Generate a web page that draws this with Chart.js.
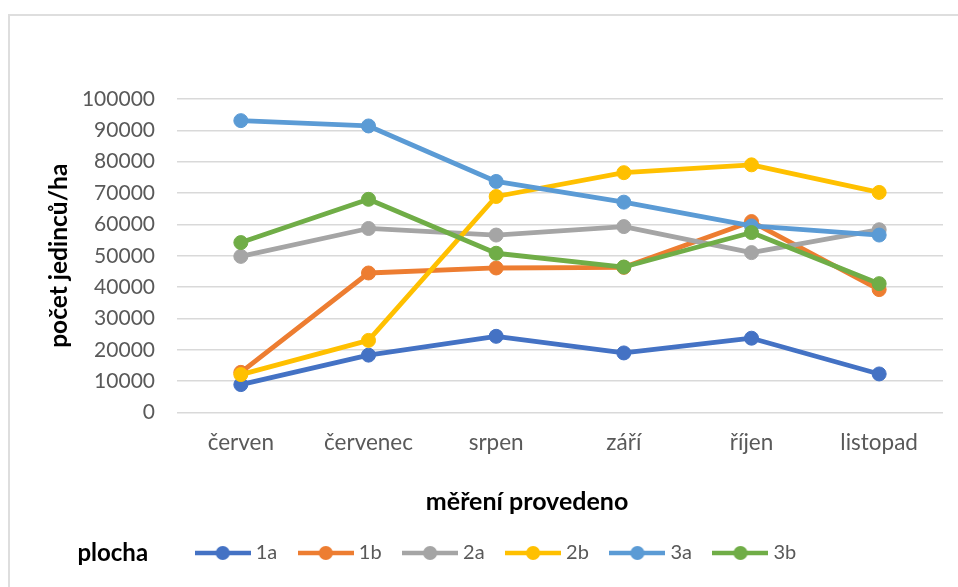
<!DOCTYPE html>
<html lang="cs">
<head>
<meta charset="utf-8">
<title>Počet jedinců na hektar</title>
<script src="https://cdn.jsdelivr.net/npm/chart.js@4.4.1/dist/chart.umd.min.js"></script>
<style>
  html, body { margin: 0; padding: 0; background: #fff; }
  #wrap { position: relative; width: 958px; height: 587px; overflow: hidden; }
  #frame { position: absolute; left: 8px; top: 14px; width: 1000px; height: 1000px;
           border: 2px solid #dedede; box-sizing: border-box; }
  canvas { position: absolute; left: 0; top: 0; }
</style>
</head>
<body>
<div id="wrap">
  <div id="frame"></div>
  <canvas id="chart" width="958" height="587"></canvas>
</div>
<script>
// Months of measurement
const months = ['červen', 'červenec', 'srpen', 'září', 'říjen', 'listopad'];

// Individuals per hectare for each plot
const plot1a = [8900, 18300, 24300, 19000, 23700, 12300];
const plot1b = [12800, 44500, 46100, 46300, 60900, 39200];
const plot2a = [49800, 58700, 56600, 59300, 51000, 58300];
const plot2b = [12100, 23000, 68900, 76500, 79000, 70200];
const plot3a = [93100, 91400, 73700, 67100, 59500, 56600];
const plot3b = [54200, 68000, 50800, 46400, 57400, 41100];

const plotNames = ['1a', '1b', '2a', '2b', '3a', '3b'];
const plotColors = ['#4472C4', '#ED7D31', '#A5A5A5', '#FFC000', '#5B9BD5', '#70AD47'];

// Value axis range
const yMin = 0;
const yMax = 100000;
const yStep = 10000;

const yTitle = 'počet jedinců/ha';
const xTitle = 'měření provedeno';
const legendTitle = 'plocha';

const FONT = 'Lato, "Open Sans", sans-serif';

// Legend symbol: short line with a dot in the middle
function legendIcon(color) {
  const c = document.createElement('canvas');
  c.width = 56; c.height = 16;
  const g = c.getContext('2d');
  g.strokeStyle = color;
  g.lineWidth = 4.5;
  g.beginPath(); g.moveTo(0, 8); g.lineTo(56, 8); g.stroke();
  g.fillStyle = color;
  g.beginPath(); g.arc(28, 8, 7, 0, Math.PI * 2); g.fill();
  return c;
}

const series = [plot1a, plot1b, plot2a, plot2b, plot3a, plot3b];
const datasets = series.map((values, i) => ({
  label: plotNames[i],
  data: values,
  borderColor: plotColors[i],
  backgroundColor: plotColors[i],
  pointBackgroundColor: plotColors[i],
  pointBorderColor: plotColors[i],
  borderWidth: 4.8,
  pointRadius: 7,
  pointBorderWidth: 1,
  borderJoinStyle: 'round',
  borderCapStyle: 'round',
  tension: 0,
  order: series.length - i
}));

// Extra captions: x-axis title and the legend heading
const captions = {
  id: 'captions',
  afterDraw(chart) {
    const { ctx, chartArea } = chart;
    ctx.save();
    ctx.fillStyle = '#000';
    ctx.textAlign = 'center';
    ctx.textBaseline = 'middle';
    ctx.font = 'bold 25px ' + FONT;
    const w = chartArea.right - chartArea.left;
    ctx.fillText(xTitle, chartArea.left + w * 0.457, chartArea.bottom + 89);
    ctx.font = 'bold 24px ' + FONT;
    const hb = chart.legend.legendHitBoxes[0];
    if (hb) ctx.fillText(legendTitle, hb.left - 87, hb.top + hb.height / 2);
    ctx.restore();
  }
};

new Chart(document.getElementById('chart'), {
  type: 'line',
  data: { labels: months, datasets },
  plugins: [captions],
  options: {
    responsive: false,
    animation: false,
    layout: { padding: { left: 53, right: 15, top: 99, bottom: 14 } },
    plugins: {
      tooltip: { enabled: false },
      legend: {
        position: 'bottom',
        labels: {
          usePointStyle: true,
          pointStyleWidth: 46,
          padding: 25.5,
          color: '#595959',
          font: { family: FONT, size: 20 },
          generateLabels(chart) {
            return chart.data.datasets.map((ds, i) => ({
              text: ds.label,
              pointStyle: legendIcon(ds.borderColor),
              fillStyle: ds.borderColor,
              strokeStyle: ds.borderColor,
              lineWidth: 0,
              hidden: false,
              datasetIndex: i,
              fontColor: '#595959'
            }));
          }
        }
      }
    },
    scales: {
      x: {
        offset: true,
        grid: { display: false, drawTicks: false },
        border: { display: false },
        ticks: {
          color: '#595959',
          font: { family: FONT, size: 22.5 },
          padding: 17,
          maxRotation: 0,
          autoSkip: false
        },
        afterFit(scale) { scale.height = 105; }
      },
      y: {
        min: yMin,
        max: yMax,
        border: { display: false },
        grid: { color: '#d9d9d9', lineWidth: 1.5, drawTicks: false },
        ticks: {
          stepSize: yStep,
          color: '#595959',
          font: { family: FONT, size: 21 },
          padding: 22,
          callback: v => String(v)
        },
        title: {
          display: true,
          text: yTitle,
          color: '#000',
          font: { family: FONT, size: 24.5, weight: 'bold', lineHeight: 1 },
          padding: { top: -6, bottom: 0 }
        },
        afterFit(scale) { scale.width = 124; }
      }
    }
  }
});
</script>
</body>
</html>
